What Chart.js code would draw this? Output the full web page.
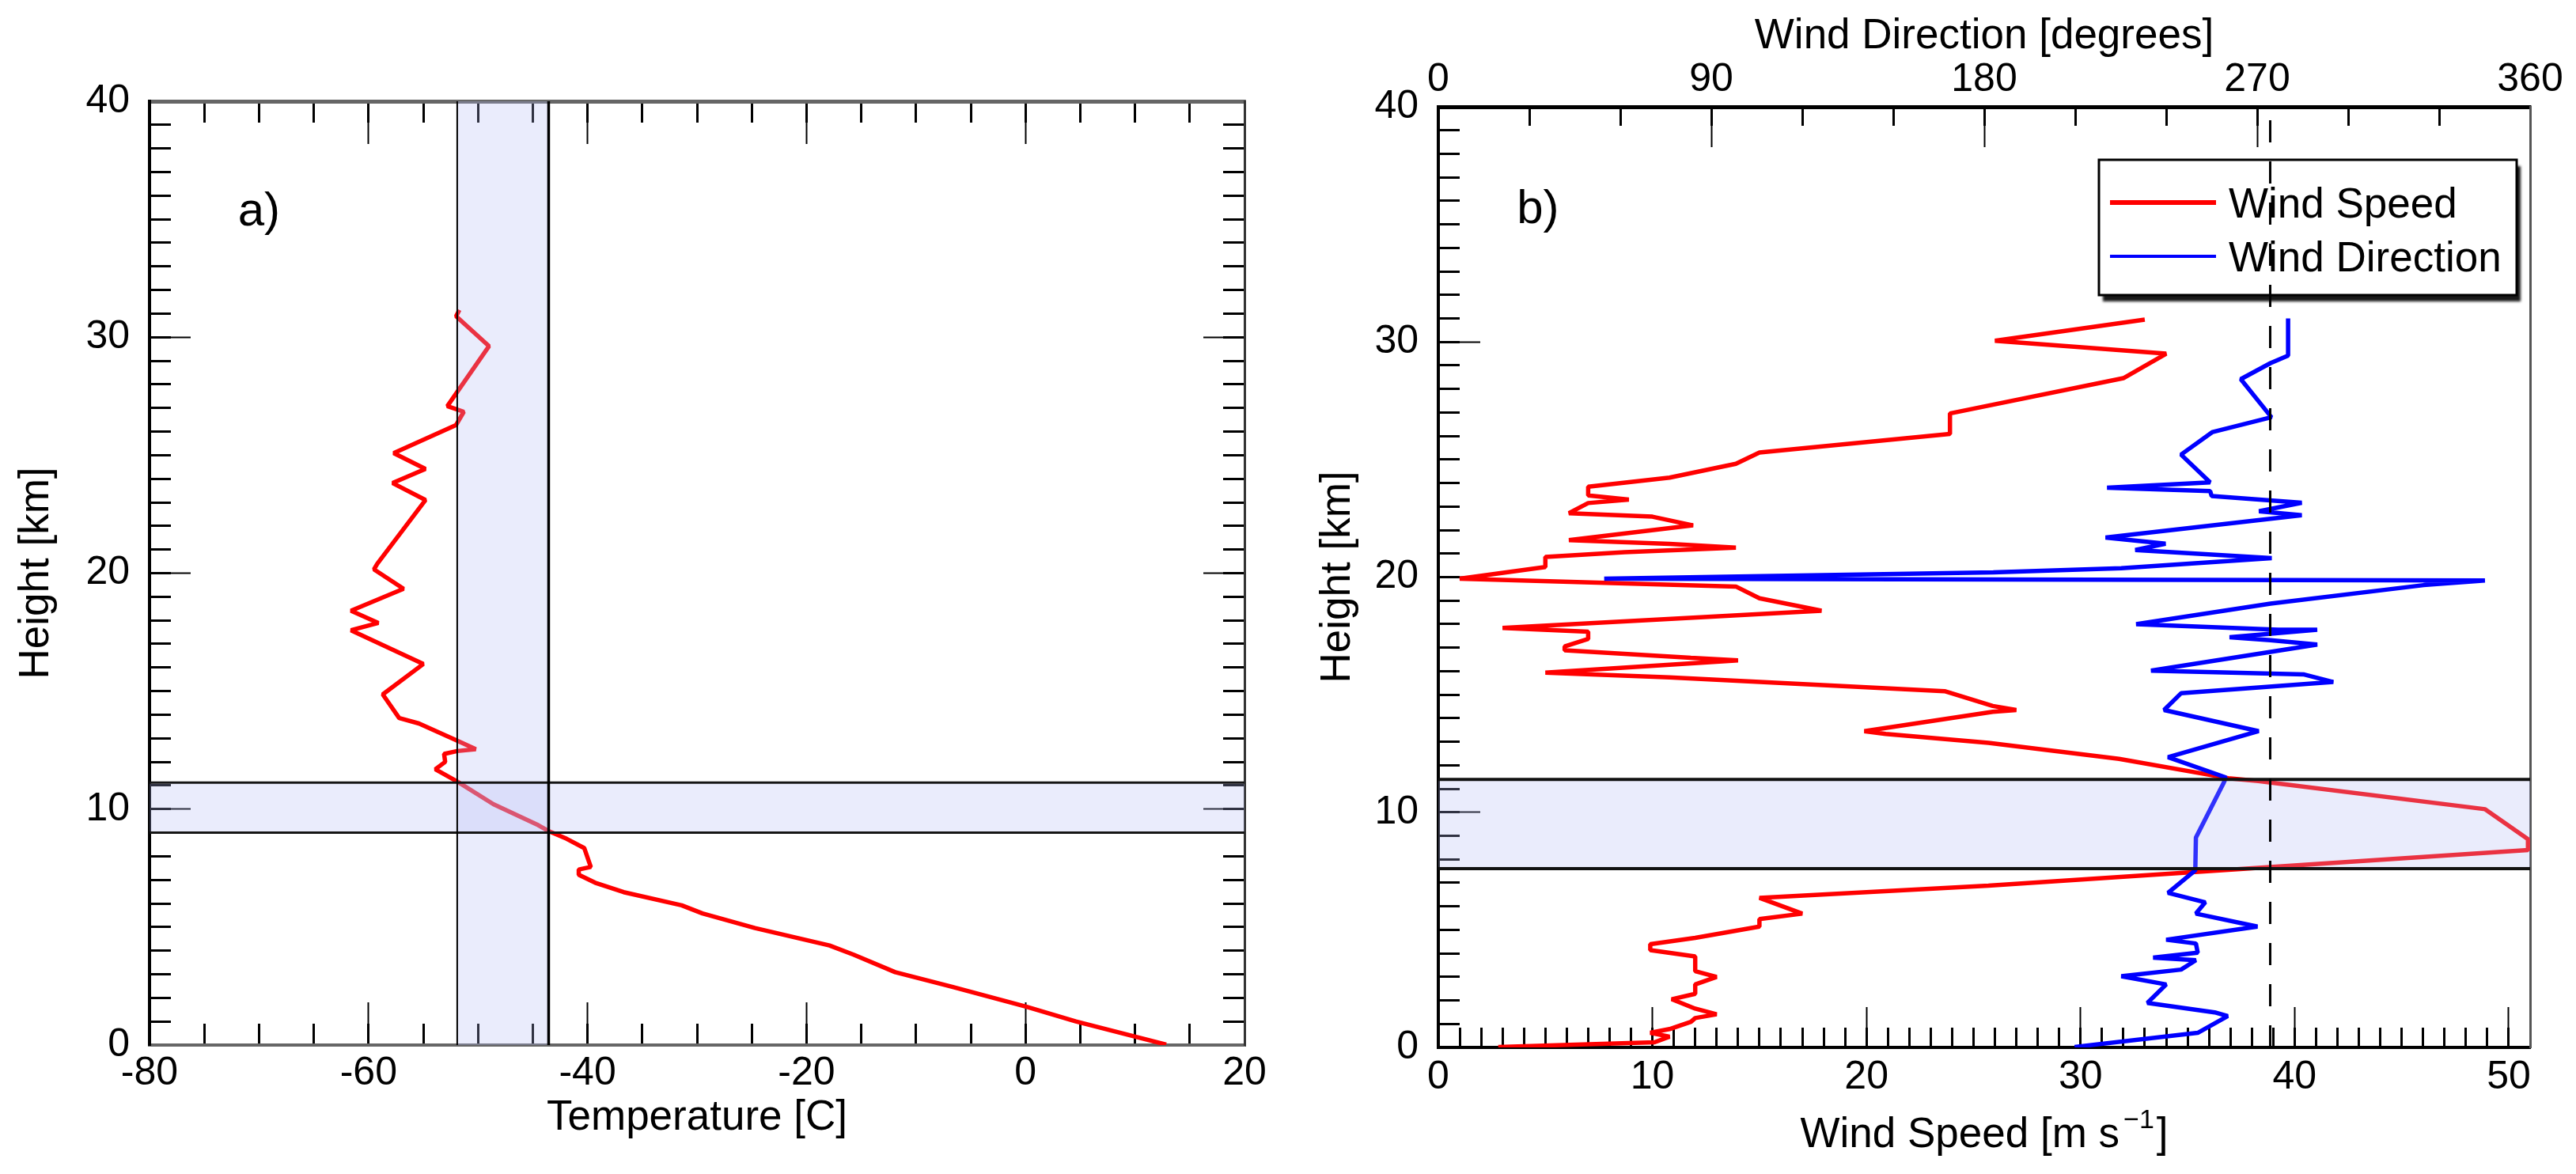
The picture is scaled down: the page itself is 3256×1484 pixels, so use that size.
<!DOCTYPE html>
<html><head><meta charset="utf-8">
<script src="https://cdn.jsdelivr.net/npm/chart.js@4.4.1/dist/chart.umd.min.js"></script>
<style>
html,body{margin:0;padding:0;background:#fff;width:3256px;height:1484px;overflow:hidden}
canvas{position:absolute;top:0}
#cA{left:0}
#cB{left:1628px}
</style></head><body>
<canvas id="cA" width="1628" height="1484"></canvas>
<canvas id="cB" width="1628" height="1484"></canvas>
<script>
// ---------------- data ----------------
const heightRange = [0, 40];
const tempRange = [-80, 20];
const speedRange = [0, 51];
const dirRange = [0, 360];

const tempHeights = [31.16,30.89,29.62,27.08,26.84,26.28,25.09,24.42,23.82,23.10,20.40,20.16,19.34,18.41,17.89,17.58,16.15,14.86,13.86,13.63,12.90,12.54,12.46,12.34,12.00,11.69,11.17,10.21,9.32,9.08,8.74,8.35,7.55,7.44,7.22,6.88,6.48,5.92,5.58,4.96,4.22,3.83,3.09,2.47,1.62,1.00,0.02];
const temperatures = [-51.7,-52.0,-49.0,-52.8,-51.3,-52.0,-57.7,-54.8,-57.8,-54.8,-59.2,-59.5,-56.8,-61.6,-59.1,-61.6,-55.0,-58.7,-57.2,-55.4,-51.9,-50.2,-51.9,-53.1,-53.0,-53.9,-51.9,-48.6,-44.5,-43.6,-41.9,-40.3,-39.7,-40.8,-40.8,-39.3,-36.7,-31.4,-29.5,-24.7,-17.9,-15.7,-11.9,-6.7,0.1,4.6,12.85];

const speedHeights = [30.95,30.05,29.50,28.46,26.96,26.09,25.30,24.82,24.23,23.84,23.47,23.30,23.15,22.72,22.57,22.20,21.57,21.41,21.25,21.06,20.86,20.43,19.93,19.60,19.10,18.57,17.84,17.68,17.37,17.05,16.89,16.57,16.46,15.94,15.74,15.15,14.52,14.35,14.27,13.45,13.33,12.95,12.27,11.45,11.33,10.13,8.86,8.39,6.88,6.36,5.69,5.46,5.14,4.66,4.39,4.14,3.87,3.24,3.00,2.68,2.28,2.05,1.65,1.41,1.25,1.09,0.78,0.62,0.46,0.22,0.02];
const windSpeeds = [33.0,26.0,34.0,32.0,23.9,23.9,15.0,13.9,10.8,7.0,7.0,8.9,7.0,6.1,10.0,11.9,6.1,10.8,13.9,8.7,5.0,5.0,1.0,13.9,15.0,17.9,3.0,7.0,7.0,5.9,5.9,11.8,14.0,5.0,10.8,23.65,25.9,27.0,25.9,19.9,20.9,25.7,31.8,36.9,38.3,48.9,50.9,50.9,25.7,15.0,17.0,15.0,15.0,12.0,9.9,9.9,12.0,12.0,13.0,12.0,12.0,10.9,12.0,13.0,12.0,11.8,10.8,9.9,10.8,10.1,2.8];

const dirHeights = [31.00,29.42,29.10,28.42,26.80,26.17,25.21,24.03,23.80,23.66,23.45,23.16,22.80,22.63,21.68,21.42,21.15,20.81,20.38,20.20,19.93,19.86,19.66,18.87,18.00,17.76,17.76,17.44,17.32,17.13,16.02,15.86,15.54,15.06,14.35,13.45,12.34,11.48,11.26,8.92,7.53,6.57,6.17,5.69,5.14,4.58,4.42,4.03,3.82,3.71,3.31,3.03,2.68,1.89,1.49,1.33,0.62,0.02];
const windDirections = [280.2,280.2,274.4,264.6,274.7,255.3,244.9,254.5,220.5,254.5,255.0,284.7,270.6,284.7,220.0,239.8,229.8,274.8,225.2,183.0,54.7,345.1,324.9,274.4,230.1,276.9,289.8,260.9,274.4,289.8,235.0,285.5,295.1,244.9,239.3,270.5,240.6,259.7,259.0,249.8,249.6,240.6,252.9,249.8,270.1,240.0,249.8,250.4,235.7,249.8,244.9,225.2,240.0,233.8,256.0,260.3,250.4,209.8];

const tempBand = [-51.9, -43.55];     // shaded temperature range (panel a)
const tropoBandA = [9.0, 11.12];      // shaded height range (panel a)
const tropoBandB = [7.6, 11.4];       // shaded height range (panel b)
const refDirection = [274.3];         // dashed reference direction (panel b)

const tempSteps = [20, 5];            // major / minor tick steps
const heightSteps = [10, 1];
const speedSteps = [10, 1];
const dirSteps = [90, 30];

// ---------------- helpers ----------------
const FONT = "'Liberation Sans', Arial, Helvetica, sans-serif";
Chart.defaults.font.family = FONT;
const pts = (xs, ys) => xs.map((x, i) => ({x: x, y: ys[i]}));
const BAND = 'rgba(176,186,244,0.27)';
const NONE = 'rgba(0,0,0,0)';

function fixSize(axisName, size) {
  return (sc) => { if (axisName === 'x') sc.height = size; else sc.width = size; };
}
// axis that only draws inward tick marks (and optionally the frame border)
function tickAxis(axisName, position, range, step, len, width, weight, size, border) {
  return {
    type: 'linear', axis: axisName, position: position, min: range[0], max: range[1], weight: weight,
    grid: {display: len > 0, drawOnChartArea: false, drawTicks: len > 0, tickLength: -len, tickWidth: width, tickColor: '#000'},
    border: border ? {display: true, color: border[0], width: border[1]} : {display: false},
    ticks: {display: false, stepSize: step, autoSkip: false, includeBounds: false, maxTicksLimit: 1000},
    title: {display: false},
    afterFit: fixSize(axisName, size)
  };
}
// axis that only draws the numeric tick labels (and optionally the axis title)
function labelAxis(axisName, position, range, step, size, pad, title, titlePad) {
  return {
    type: 'linear', axis: axisName, position: position, min: range[0], max: range[1], weight: 2,
    grid: {display: false, drawOnChartArea: false, drawTicks: false, tickLength: 0},
    border: {display: false},
    ticks: {display: true, stepSize: step, autoSkip: false, includeBounds: false, maxRotation: 0, minRotation: 0,
            maxTicksLimit: 1000, padding: pad, color: '#000', font: {family: FONT, size: 50}},
    title: title ? {display: true, text: title, color: '#000', font: {family: FONT, size: 53},
                    padding: {top: titlePad, bottom: titlePad}} : {display: false},
    afterFit: fixSize(axisName, size)
  };
}

const panelLabel = (text, xv, yv) => ({
  id: 'panelLabel',
  afterDatasetsDraw(chart) {
    const ctx = chart.ctx;
    ctx.save();
    ctx.font = '60px ' + FONT;
    ctx.fillStyle = '#000';
    ctx.textAlign = 'center';
    ctx.textBaseline = 'middle';
    ctx.fillText(text, chart.scales.x.getPixelForValue(xv), chart.scales.y.getPixelForValue(yv));
    ctx.restore();
  }
});

const baseOptions = {
  responsive: false, animation: false, devicePixelRatio: 1, events: [],
  layout: {padding: 0},
  elements: {point: {radius: 0}, line: {tension: 0, borderJoinStyle: 'bevel', fill: false}},
  plugins: {legend: {display: false}, tooltip: {enabled: false}}
};

// ---------------- panel a ----------------
new Chart(document.getElementById('cA'), {
  type: 'line',
  data: {datasets: [
    {data: pts([tempBand[0], tempBand[0]], heightRange), borderColor: '#000', borderWidth: 2},
    {data: pts([tempBand[1], tempBand[1]], heightRange), borderColor: '#000', borderWidth: 3.5},
    {data: pts(tempRange, [tropoBandA[1], tropoBandA[1]]), borderColor: '#151515', borderWidth: 3},
    {data: pts(tempRange, [tropoBandA[0], tropoBandA[0]]), borderColor: '#151515', borderWidth: 3},
    {data: pts(tempRange, [tropoBandA[0], tropoBandA[0]]), borderColor: NONE, borderWidth: 1, fill: '+1', backgroundColor: BAND},
    {data: pts(tempRange, [tropoBandA[1], tropoBandA[1]]), borderColor: NONE, borderWidth: 1},
    {data: pts(tempBand, [heightRange[0], heightRange[0]]), borderColor: NONE, borderWidth: 1, fill: '+1', backgroundColor: BAND},
    {data: pts(tempBand, [heightRange[1], heightRange[1]]), borderColor: NONE, borderWidth: 1},
    {label: 'Temperature', data: pts(temperatures, tempHeights), borderColor: '#ff0000', borderWidth: 5.5}
  ]},
  options: Object.assign({}, baseOptions, {
    scales: {
      x:   labelAxis('x', 'bottom', tempRange, tempSteps[0], 163, 6, 'Temperature [C]', 39),
      xM:  tickAxis('x', 'bottom', tempRange, tempSteps[0], 54, 2, 1, 0, ['#666', 4]),
      xm:  tickAxis('x', 'bottom', tempRange, tempSteps[1], 27, 3, 0, 0),
      xt:  tickAxis('x', 'top', tempRange, tempSteps[0], 54, 2, 1, 128, ['#666', 5]),
      xtm: tickAxis('x', 'top', tempRange, tempSteps[1], 27, 3, 0, 0),
      y:   labelAxis('y', 'left', heightRange, heightSteps[0], 189, 25, 'Height [km]', 15),
      yM:  tickAxis('y', 'left', heightRange, heightSteps[0], 52, 2, 1, 0, ['#000', 4]),
      ym:  tickAxis('y', 'left', heightRange, heightSteps[1], 27, 3, 0, 0),
      yr:  tickAxis('y', 'right', heightRange, heightSteps[0], 52, 2, 1, 55, ['#333', 3]),
      yrm: tickAxis('y', 'right', heightRange, heightSteps[1], 27, 3, 0, 0)
    }
  }),
  plugins: [panelLabel('a)', -70, 35.3)]
});

// ---------------- panel b ----------------
const boxLegend = {
  id: 'boxLegend',
  beforeDatasetsDraw(chart) {
    const ctx = chart.ctx;
    const L = 1025, T = 202, W = 528, H = 171;
    ctx.save();
    ctx.shadowColor = 'rgba(0,0,0,0.9)';
    ctx.shadowOffsetX = 5; ctx.shadowOffsetY = 8; ctx.shadowBlur = 3;
    ctx.fillStyle = '#fff';
    ctx.fillRect(L, T, W, H);
    ctx.restore();
    ctx.save();
    ctx.strokeStyle = '#000'; ctx.lineWidth = 3;
    ctx.strokeRect(L, T, W, H);
    const items = chart.data.datasets.filter(d => d.legendOrder !== undefined)
      .sort((a, b) => a.legendOrder - b.legendOrder);
    ctx.font = '53px ' + FONT;
    ctx.fillStyle = '#000';
    ctx.textAlign = 'left'; ctx.textBaseline = 'alphabetic';
    items.forEach((d, i) => {
      const base = 275 + i * 68;
      ctx.strokeStyle = d.borderColor;
      ctx.lineWidth = d.legendWidth;
      ctx.beginPath(); ctx.moveTo(1039, base - 19); ctx.lineTo(1173, base - 19); ctx.stroke();
      ctx.fillText(d.label, 1189, base);
    });
    ctx.restore();
  }
};

const speedTitle = {
  id: 'speedTitle',
  afterDraw(chart) {
    const ctx = chart.ctx, ca = chart.chartArea;
    const main = 'Wind Speed [m s', sup = '\u22121', end = ']';
    ctx.save();
    ctx.fillStyle = '#000';
    ctx.textAlign = 'left'; ctx.textBaseline = 'alphabetic';
    ctx.font = '53px ' + FONT; const w1 = ctx.measureText(main).width; const w3 = ctx.measureText(end).width;
    ctx.font = '34px ' + FONT; const w2 = ctx.measureText(sup).width;
    const total = w1 + 5 + w2 + 3 + w3;
    const x0 = (ca.left + ca.right) / 2 - total / 2;
    const base = ca.bottom + 126;
    ctx.font = '53px ' + FONT; ctx.fillText(main, x0, base);
    ctx.font = '34px ' + FONT; ctx.fillText(sup, x0 + w1 + 5, base - 24);
    ctx.font = '53px ' + FONT; ctx.fillText(end, x0 + w1 + 5 + w2 + 3, base);
    ctx.restore();
  }
};

new Chart(document.getElementById('cB'), {
  type: 'line',
  data: {datasets: [
    {data: pts([refDirection[0], refDirection[0]], heightRange), xAxisID: 'xd', borderColor: '#000', borderWidth: 3, borderDash: [28, 24]},
    {data: pts(speedRange, [tropoBandB[1], tropoBandB[1]]), borderColor: '#111', borderWidth: 4},
    {data: pts(speedRange, [tropoBandB[0], tropoBandB[0]]), borderColor: '#111', borderWidth: 4},
    {data: pts(speedRange, [tropoBandB[0], tropoBandB[0]]), borderColor: NONE, borderWidth: 1, fill: '+1', backgroundColor: BAND},
    {data: pts(speedRange, [tropoBandB[1], tropoBandB[1]]), borderColor: NONE, borderWidth: 1},
    {label: 'Wind Direction', legendOrder: 1, legendWidth: 4, data: pts(windDirections, dirHeights), xAxisID: 'xd', borderColor: '#0000ff', borderWidth: 5.5},
    {label: 'Wind Speed', legendOrder: 0, legendWidth: 6, data: pts(windSpeeds, speedHeights), borderColor: '#ff0000', borderWidth: 5.5}
  ]},
  options: Object.assign({}, baseOptions, {
    scales: {
      x:   labelAxis('x', 'bottom', speedRange, speedSteps[0], 160, 8),
      xM:  tickAxis('x', 'bottom', speedRange, speedSteps[0], 51, 2, 1, 0, ['#000', 4]),
      xm:  tickAxis('x', 'bottom', speedRange, speedSteps[1], 25, 3, 0, 0),
      xd:  labelAxis('x', 'top', dirRange, dirSteps[0], 135, 4, 'Wind Direction [degrees]', 15),
      xdM: tickAxis('x', 'top', dirRange, dirSteps[0], 51, 2, 1, 0, ['#000', 5]),
      xdm: tickAxis('x', 'top', dirRange, dirSteps[1], 24, 3, 0, 0),
      y:   labelAxis('y', 'left', heightRange, heightSteps[0], 190, 25, 'Height [km]', 32),
      yM:  tickAxis('y', 'left', heightRange, heightSteps[0], 53, 2, 1, 0, ['#000', 4]),
      ym:  tickAxis('y', 'left', heightRange, heightSteps[1], 27, 3, 0, 0),
      yr:  tickAxis('y', 'right', heightRange, heightSteps[0], 0, 2, 0, 58, ['#555', 3])
    }
  }),
  plugins: [boxLegend, speedTitle, panelLabel('b)', 4.65, 35.6)]
});
</script>
</body></html>
